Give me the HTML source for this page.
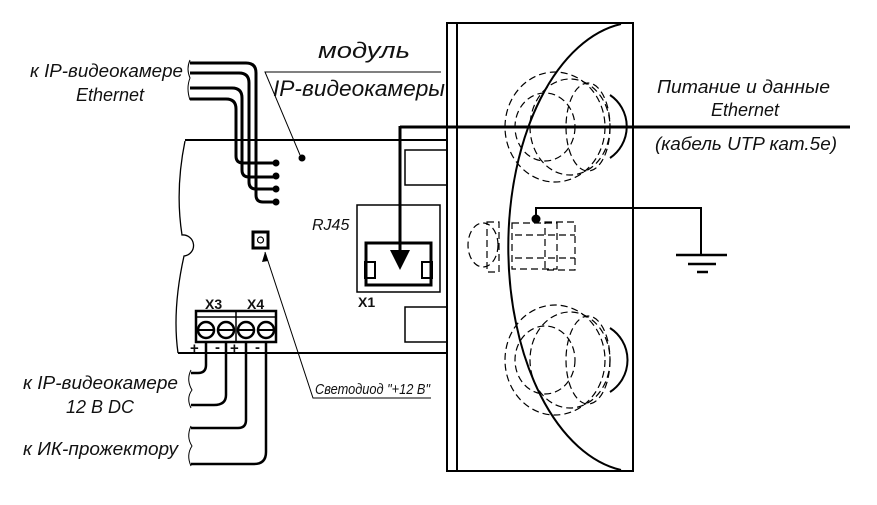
<!DOCTYPE html>
<html><head><meta charset="utf-8"><style>
html,body{margin:0;padding:0;background:#fff;}
svg{display:block;}
text{font-family:"Liberation Sans",sans-serif;font-style:italic;fill:#111;}
</style></head><body>
<svg width="877" height="505" viewBox="0 0 877 505" xmlns="http://www.w3.org/2000/svg">
<g fill="none" stroke="#000">
<!-- housing box -->
<rect x="447" y="23" width="186" height="448" stroke-width="2"/>
<line x1="457" y1="23" x2="457" y2="471" stroke-width="2"/>
<path d="M621 24 A130 225 0 0 0 621 470" stroke-width="2"/>
<!-- glands -->
<g stroke-dasharray="7,4" stroke-width="1.2">
<ellipse cx="555" cy="127" rx="50" ry="55"/>
<ellipse cx="545" cy="127" rx="30" ry="34"/>
<ellipse cx="570" cy="127" rx="40" ry="48"/>
<ellipse cx="588" cy="127" rx="22" ry="44"/>
<ellipse cx="555" cy="360" rx="50" ry="55"/>
<ellipse cx="545" cy="360" rx="30" ry="34"/>
<ellipse cx="570" cy="360" rx="40" ry="48"/>
<ellipse cx="588" cy="360" rx="22" ry="44"/>
<ellipse cx="483" cy="245" rx="15" ry="22"/>
<rect x="487" y="222" width="12" height="50"/>
<rect x="512" y="223" width="45" height="46"/>
<rect x="545" y="222" width="30" height="48"/>
<line x1="515" y1="235" x2="575" y2="235"/>
<line x1="515" y1="258" x2="575" y2="258"/>
</g>
<path d="M610 95 A38 38 0 0 1 610 158" stroke-width="2"/>
<path d="M610 328 A38 38 0 0 1 610 392" stroke-width="2"/>
<!-- cable -->
<line x1="400" y1="127" x2="850" y2="127" stroke-width="3"/>
<line x1="400" y1="126" x2="400" y2="252" stroke-width="3"/>
<!-- ground -->
<polyline points="536,219 536,208 701,208 701,255" stroke-width="2"/>
<line x1="676" y1="255" x2="727" y2="255" stroke-width="2.5"/>
<line x1="688" y1="264" x2="716" y2="264" stroke-width="2.5"/>
<line x1="697" y1="272" x2="708" y2="272" stroke-width="2.5"/>
<!-- board -->
<line x1="185" y1="140" x2="447" y2="140" stroke-width="2"/>
<line x1="178" y1="353" x2="447" y2="353" stroke-width="2"/>
<path d="M185 141 Q175 190 182 235 A10 10 0 0 1 184 256 Q172 310 178 353" stroke-width="1.3"/>
<rect x="405" y="150" width="42" height="35" stroke-width="1.5"/>
<rect x="405" y="307" width="42" height="35" stroke-width="1.5"/>
<!-- RJ45 -->
<rect x="357" y="205" width="83" height="87" stroke-width="1.5"/>
<path d="M366 285 L366 243 L431 243 L431 285 Z" stroke-width="3"/>
<rect x="365" y="262" width="10" height="16" stroke-width="2"/>
<rect x="422" y="262" width="10" height="16" stroke-width="2"/>
<!-- camera cables -->
<g stroke-width="3">
<path d="M190 63 L246 63 Q256 63 256 73 L256 195 Q256 202 263 202 L276 202"/>
<path d="M190 73 L239 73 Q249 73 249 83 L249 182 Q249 189 256 189 L276 189"/>
<path d="M190 88 L232 88 Q242 88 242 98 L242 170 Q242 177 249 177 L276 177"/>
<path d="M190 99 L226 99 Q236 99 236 109 L236 156 Q236 163 243 163 L276 163"/>
</g>
<path d="M190 60 Q186 69 190 78 Q186 88 190 100" stroke-width="1"/>
<!-- pointers -->
<polyline points="441,72 265,72 300,155" stroke-width="1"/>
<polyline points="431,398 313,398 265,252" stroke-width="1"/>
<!-- LED -->
<rect x="253" y="232" width="15" height="16" stroke-width="3"/>
<circle cx="260.5" cy="240" r="3" stroke-width="1.2"/>
<!-- terminal block -->
<rect x="196" y="311" width="80" height="31" stroke-width="2.5"/>
<line x1="236" y1="311" x2="236" y2="342" stroke-width="1.5"/>
<line x1="196" y1="317" x2="276" y2="317" stroke-width="1.5"/>
<circle cx="206" cy="330" r="8" stroke-width="2.5"/><line x1="198" y1="330" x2="214" y2="330" stroke-width="2"/>
<circle cx="226" cy="330" r="8" stroke-width="2.5"/><line x1="218" y1="330" x2="234" y2="330" stroke-width="2"/>
<circle cx="246" cy="330" r="8" stroke-width="2.5"/><line x1="238" y1="330" x2="254" y2="330" stroke-width="2"/>
<circle cx="266" cy="330" r="8" stroke-width="2.5"/><line x1="258" y1="330" x2="274" y2="330" stroke-width="2"/>
<!-- terminal wires -->
<g stroke-width="2.5">
<path d="M206 342 L206 365 Q206 373 198 373 L191 373"/>
<path d="M226 342 L226 395 Q226 405 214 405 L191 405"/>
<path d="M246 342 L246 420 Q246 428 238 428 L191 428"/>
<path d="M266 342 L266 452 Q266 464 254 464 L191 464"/>
</g>
<path d="M191 370 Q186 380 192 390 Q186 398 191 408" stroke-width="1"/>
<path d="M191 426 Q186 437 192 446 Q186 455 191 466" stroke-width="1"/>
</g>
<!-- fills -->
<polygon points="390,250 410,250 400,270" fill="#000"/>
<g fill="#000">
<circle cx="276" cy="163" r="3.5"/><circle cx="276" cy="176" r="3.5"/>
<circle cx="276" cy="189" r="3.5"/><circle cx="276" cy="202" r="3.5"/>
<circle cx="302" cy="158" r="3.5"/><circle cx="536" cy="219" r="4.5"/>
</g>
<polygon points="265,252 262,262 268,261" fill="#000"/>
<!-- text -->
<text x="30" y="77" font-size="18" textLength="153" lengthAdjust="spacingAndGlyphs">к IP-видеокамере</text>
<text x="110" y="101" font-size="18" text-anchor="middle">Ethernet</text>
<text x="318" y="58" font-size="22" textLength="92" lengthAdjust="spacingAndGlyphs">модуль</text>
<text x="273" y="96" font-size="22" textLength="172" lengthAdjust="spacingAndGlyphs">IP-видеокамеры</text>
<text x="657" y="93" font-size="18" textLength="173" lengthAdjust="spacingAndGlyphs">Питание и данные</text>
<text x="745" y="116" font-size="18" text-anchor="middle">Ethernet</text>
<text x="655" y="150" font-size="18" textLength="182" lengthAdjust="spacingAndGlyphs">(кабель UTP кат.5е)</text>
<text x="312" y="230" font-size="16">RJ45</text>
<text x="358" y="307" font-size="14" style="font-style:normal;font-weight:bold">X1</text>
<text x="205" y="309" font-size="14" style="font-style:normal;font-weight:bold">X3</text>
<text x="247" y="309" font-size="14" style="font-style:normal;font-weight:bold">X4</text>
<text x="190" y="353" font-size="15" style="font-style:normal;font-weight:bold">+</text>
<text x="215" y="352" font-size="15" style="font-style:normal;font-weight:bold">-</text>
<text x="230" y="353" font-size="15" style="font-style:normal;font-weight:bold">+</text>
<text x="255" y="352" font-size="15" style="font-style:normal;font-weight:bold">-</text>
<text x="315" y="394" font-size="15" textLength="115" lengthAdjust="spacingAndGlyphs">Светодиод "+12 В"</text>
<text x="23" y="389" font-size="18" textLength="155" lengthAdjust="spacingAndGlyphs">к IP-видеокамере</text>
<text x="100" y="413" font-size="18" text-anchor="middle">12 В DC</text>
<text x="23" y="455" font-size="18" textLength="155" lengthAdjust="spacingAndGlyphs">к ИК-прожектору</text>
</svg>
</body></html>
